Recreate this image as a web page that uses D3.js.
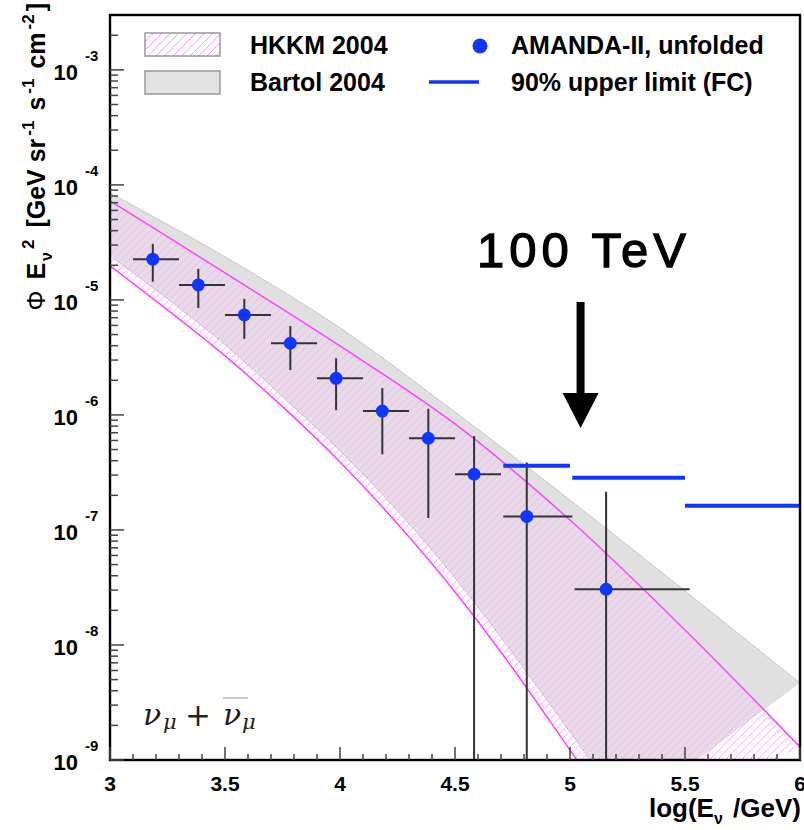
<!DOCTYPE html>
<html><head><meta charset="utf-8">
<script src="https://cdn.jsdelivr.net/npm/d3@7"></script>
<style>body{margin:0;background:#fff} svg{display:block}</style>
</head><body>
<svg id="c" width="804" height="830"></svg>
<script>
// ---------------- data ----------------
const xDomain = [3, 6];
const yDomain = [1e-9, 3.0e-3];

// AMANDA-II unfolded points
const ptLogE = [3.186, 3.384, 3.584, 3.784, 3.983, 4.184, 4.384, 4.583, 4.812, 5.157];
const ptXlo  = [3.10, 3.30, 3.50, 3.70, 3.90, 4.10, 4.30, 4.50, 4.71, 5.02];
const ptXhi  = [3.30, 3.50, 3.70, 3.90, 4.10, 4.30, 4.50, 4.70, 5.01, 5.52];
const ptFlux = [2.26e-5, 1.35e-5, 7.41e-6, 4.20e-6, 2.08e-6, 1.08e-6, 6.27e-7, 3.05e-7, 1.31e-7, 3.05e-8];
const ptHi   = [3.07e-5, 1.86e-5, 1.02e-5, 5.94e-6, 3.11e-6, 1.71e-6, 1.13e-6, 6.56e-7, 3.85e-7, 2.15e-7];
const ptLo   = [1.44e-5, 8.5e-6, 4.58e-6, 2.46e-6, 1.10e-6, 4.55e-7, 1.27e-7, 1e-10, 1e-10, 1e-10];

// 90% upper limits (FC)
const ulXlo  = [4.71, 5.01, 5.50];
const ulXhi  = [5.00, 5.50, 6.00];
const ulFlux = [3.62e-7, 2.85e-7, 1.62e-7];

// Bartol 2004 band
const bartolUpE = [3.0, 3.5, 4.0, 4.5, 5.0, 5.5, 6.0];
const bartolUpF = [8.5e-5, 2.37e-5, 5.72e-6, 1.06e-6, 1.82e-7, 2.95e-8, 4.68e-9];
const bartolLoE = [3.0, 3.25, 3.5, 3.75, 4.0, 4.25, 4.5, 4.75, 5.0, 5.25];
const bartolLoF = [2.42e-5, 1.02e-5, 4.07e-6, 1.44e-6, 4.86e-7, 1.46e-7, 3.83e-8, 8.51e-9, 1.75e-9, 3.53e-10];

// HKKM 2004 band
const hkkmUpE = [3.0, 3.5, 4.0, 4.5, 5.0, 5.5, 6.0];
const hkkmUpF = [7.26e-5, 1.72e-5, 3.98e-6, 8.36e-7, 1.22e-7, 1.35e-8, 1.30e-9];
const hkkmLoE = [3.0, 3.25, 3.5, 3.75, 4.0, 4.25, 4.5, 4.75, 5.0, 5.25];
const hkkmLoF = [1.98e-5, 8.18e-6, 3.26e-6, 1.18e-6, 3.90e-7, 1.13e-7, 2.89e-8, 6.31e-9, 1.22e-9, 2.36e-10];

const xMajorTicks = [3, 3.5, 4, 4.5, 5, 5.5, 6];
const xTickLabels = ["3", "3.5", "4", "4.5", "5", "5.5", "6"];
const yDecades = [-9, -8, -7, -6, -5, -4, -3];

// annotation: 100 TeV arrow
const arrowLogE = 5.046;
const arrowFrom = 9.6e-6, arrowTo = 7.7e-7;

// ---------------- chart ----------------
const svg = d3.select('#c');
const M = {l:110, r:800, t:15, b:760};
const x = d3.scaleLinear().domain(xDomain).range([M.l, M.r]);
const y = d3.scaleLog().domain(yDomain).range([M.b, M.t]);
const FONT = "'Liberation Sans', Arial, Helvetica, sans-serif";

const defs = svg.append('defs');
defs.append('clipPath').attr('id','clip').append('rect')
  .attr('x',M.l).attr('y',M.t).attr('width',M.r-M.l).attr('height',M.b-M.t);

const zip = (a,b) => a.map((v,i)=>[v,b[i]]);
const line = d3.line().x(d=>x(d[0])).y(d=>y(d[1])).curve(d3.curveCatmullRom.alpha(0.5));
function bandPath(up, lo){
  const a = line(up);
  const b = line(lo.slice().reverse());
  return a + 'L' + b.slice(1) + 'Z';
}
function hatch(sel, x0, y0, x1, y1, step, color, crisp){
  const h = y1 - y0;
  for (let k = x0 - h; k <= x1; k += step){
    sel.append('line').attr('x1',k).attr('y1',y1).attr('x2',k+h).attr('y2',y0)
      .style('stroke',color).style('stroke-width',1)
      .style('shape-rendering', crisp ? 'crispEdges' : 'auto');
  }
}
const bU = zip(bartolUpE, bartolUpF), bL = zip(bartolLoE, bartolLoF);
const hU = zip(hkkmUpE, hkkmUpF), hL = zip(hkkmLoE, hkkmLoF);
const hkkmD = bandPath(hU,hL);
defs.append('clipPath').attr('id','hkkmClip').append('path').attr('d', hkkmD);

const g = svg.append('g').attr('clip-path','url(#clip)');
g.append('path').attr('d', bandPath(bU,bL)).attr('fill','#e0e0e0').attr('stroke','none');
g.append('path').attr('d', line(bU)).attr('fill','none').attr('stroke','#c8c8c8').attr('stroke-width',1);
g.append('path').attr('d', line(bL)).attr('fill','none').attr('stroke','#c8c8c8').attr('stroke-width',1);
const hg = g.append('g').attr('clip-path','url(#hkkmClip)');
hatch(hg, M.l, M.t, M.r, M.b, 8, '#f9b2f9', true);
g.append('path').attr('d', line(hU)).attr('fill','none').attr('stroke','#ff44ff').attr('stroke-width',1.5);
g.append('path').attr('d', line(hL)).attr('fill','none').attr('stroke','#ff44ff').attr('stroke-width',1.5);

// error bars
const pts = ptLogE.map((e,i)=>({e, xlo:ptXlo[i], xhi:ptXhi[i], f:ptFlux[i], hi:ptHi[i], lo:ptLo[i]}));
g.selectAll('.ex').data(pts).join('line')
  .attr('x1',d=>x(d.xlo)).attr('x2',d=>x(d.xhi)).attr('y1',d=>y(d.f)).attr('y2',d=>y(d.f))
  .attr('stroke','#333').attr('stroke-width',2);
g.selectAll('.ey').data(pts).join('line')
  .attr('x1',d=>x(d.e)).attr('x2',d=>x(d.e)).attr('y1',d=>y(d.hi)).attr('y2',d=>y(d.lo))
  .attr('stroke','#333').attr('stroke-width',2);
g.selectAll('.pt').data(pts).join('circle')
  .attr('cx',d=>x(d.e)).attr('cy',d=>y(d.f)).attr('r',6.5).attr('fill','#0f35ff');

// upper limits
g.selectAll('.ul').data(ulFlux).join('line')
  .attr('x1',(d,i)=>x(ulXlo[i])).attr('x2',(d,i)=>x(ulXhi[i]))
  .attr('y1',d=>y(d)).attr('y2',d=>y(d))
  .attr('stroke','#0f35ff').attr('stroke-width',4);

// arrow
const ax = x(arrowLogE), ay0 = y(arrowFrom), ay1 = y(arrowTo);
svg.append('line').attr('x1',ax).attr('x2',ax).attr('y1',ay0).attr('y2',ay1-30)
  .attr('stroke','#000').attr('stroke-width',8);
svg.append('path').attr('d',`M${ax-18},${ay1-35} L${ax+18},${ay1-35} L${ax},${ay1} Z`).attr('fill','#000');
svg.append('text').attr('x',477).attr('y',267).attr('font-family',FONT).attr('font-size',49)
  .attr('letter-spacing',5).attr('fill','#000').attr('stroke','#000').attr('stroke-width',1.3).text('100 TeV');

// nu label
const NF = "'DejaVu Serif', 'Liberation Serif', serif";
const nu = svg.append('g').attr('fill','#222').attr('font-family',NF).attr('font-style','italic');
nu.append('text').attr('x',143).attr('y',725).attr('font-size',30).text('ν');
nu.append('text').attr('x',163).attr('y',729).attr('font-size',21).text('μ');
nu.append('text').attr('x',185).attr('y',726).attr('font-size',31).attr('font-style','normal').text('+');
nu.append('text').attr('x',223).attr('y',725).attr('font-size',30).text('ν');
nu.append('text').attr('x',242).attr('y',729).attr('font-size',21).text('μ');
svg.append('line').attr('x1',223).attr('x2',248).attr('y1',698).attr('y2',698).attr('stroke','#bbb').attr('stroke-width',1.5);

// frame
svg.append('rect').attr('x',M.l).attr('y',M.t).attr('width',M.r-M.l).attr('height',M.b-M.t)
  .attr('fill','none').attr('stroke','#000').attr('stroke-width',2.4);

// y ticks
const yMinor = [];
yDecades.forEach(k=>{ for(let m=2;m<=9;m++){ const v=m*Math.pow(10,k); if(v<yDomain[1]) yMinor.push(v);} });
const tk = svg.append('g').attr('stroke','#444').attr('stroke-width',1.5);
yDecades.forEach(k=>{ const v=Math.pow(10,k); tk.append('line').attr('x1',M.l).attr('x2',M.l+14).attr('y1',y(v)).attr('y2',y(v)); });
yMinor.forEach(v=>{ tk.append('line').attr('x1',M.l).attr('x2',M.l+8).attr('y1',y(v)).attr('y2',y(v)); });
// x ticks
const xMinor = d3.range(30,61).map(v=>v/10).filter(v=>!xMajorTicks.some(m=>Math.abs(m-v)<1e-6));
xMajorTicks.forEach(v=>{ tk.append('line').attr('x1',x(v)).attr('x2',x(v)).attr('y1',M.b).attr('y2',M.b-13); });
xMinor.forEach(v=>{ tk.append('line').attr('x1',x(v)).attr('x2',x(v)).attr('y1',M.b).attr('y2',M.b-6); });

// tick labels
const lab = svg.append('g').attr('font-family',FONT).attr('font-weight','bold').attr('fill','#000');
yDecades.forEach(k=>{
  const v=Math.pow(10,k);
  lab.append('text').attr('x',78).attr('y',y(v)+10).attr('text-anchor','end').attr('font-size',22).text('10');
  lab.append('text').attr('x',85).attr('y',y(v)-9).attr('font-size',15).text(String(k));
});
xMajorTicks.forEach((v,i)=>{
  lab.append('text').attr('x',x(v)).attr('y',791).attr('text-anchor','middle').attr('font-size',21).text(xTickLabels[i]);
});

// axis titles
const xt = lab.append('text').attr('x',801).attr('y',817).attr('text-anchor','end').attr('font-size',26);
xt.append('tspan').text('log(E');
xt.append('tspan').attr('font-size',16).attr('dy',7).text('ν');
xt.append('tspan').attr('dy',-7).attr('dx',3).text(' /GeV)');

const yt = lab.append('text').attr('transform','rotate(-90)').attr('x',-3).attr('y',45)
  .attr('text-anchor','end').attr('font-size',25);
yt.append('tspan').attr('font-weight','normal').text('Φ');
yt.append('tspan').attr('dx',4).text(' E');
yt.append('tspan').attr('font-size',16).attr('dy',7).attr('dx',2).text('ν');
yt.append('tspan').attr('font-size',17).attr('dy',-18).attr('dx',3).text('2');
yt.append('tspan').attr('dy',11).attr('dx',5).text(' [GeV sr');
yt.append('tspan').attr('font-size',17).attr('dy',-11).attr('dx',3).text('-1');
yt.append('tspan').attr('dy',11).attr('dx',3).text(' s');
yt.append('tspan').attr('font-size',17).attr('dy',-11).attr('dx',3).text('-1');
yt.append('tspan').attr('dy',11).attr('dx',3).text(' cm');
yt.append('tspan').attr('font-size',17).attr('dy',-11).attr('dx',3).text('-2');
yt.append('tspan').attr('dy',11).attr('dx',3).text(']');

// legend
const lg = svg.append('g').attr('font-family',FONT).attr('font-weight','bold').attr('font-size',25).attr('fill','#000');
defs.append('clipPath').attr('id','swClip').append('rect').attr('x',145).attr('y',33).attr('width',75).attr('height',23);
lg.append('rect').attr('x',145).attr('y',33).attr('width',75).attr('height',23).attr('fill','#fff');
hatch(lg.append('g').attr('clip-path','url(#swClip)'), 145, 33, 220, 56, 8.5, '#ff90ff', false);
lg.append('rect').attr('x',145).attr('y',33).attr('width',75).attr('height',23).attr('fill','none').attr('stroke','#999').attr('stroke-width',1.5);
lg.append('rect').attr('x',145).attr('y',71).attr('width',75).attr('height',23).attr('fill','#e3e3e3').attr('stroke','#999').attr('stroke-width',1.5);
lg.append('text').attr('x',250).attr('y',54).text('HKKM 2004');
lg.append('text').attr('x',250).attr('y',91).text('Bartol 2004');
lg.append('circle').attr('cx',480).attr('cy',46).attr('r',7.5).attr('fill','#0f35ff');
lg.append('line').attr('x1',429).attr('x2',479).attr('y1',82).attr('y2',82).attr('stroke','#0f35ff').attr('stroke-width',3.5);
lg.append('text').attr('x',511).attr('y',54).text('AMANDA-II, unfolded');
lg.append('text').attr('x',511).attr('y',91).text('90% upper limit (FC)');
</script>
</body></html>
